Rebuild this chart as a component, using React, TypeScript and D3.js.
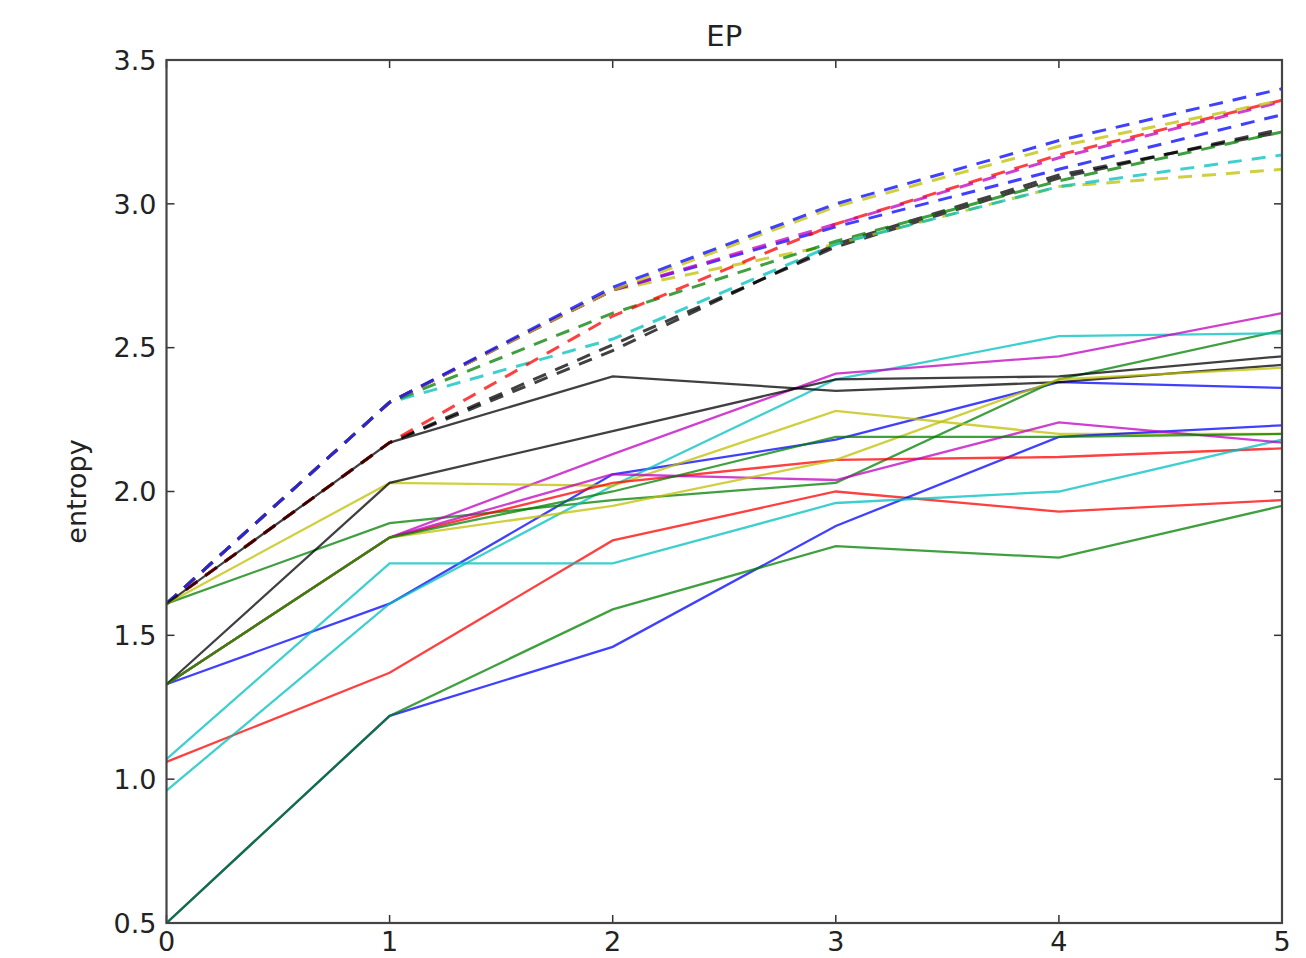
import React from 'react';
import * as d3 from 'd3';

// epochs on the x axis
const steps = [0, 1, 2, 3, 4, 5];

// solid runs
const solidBlue1 = [1.33, 1.61, 2.06, 2.18, 2.38, 2.36];
const solidBlue2 = [0.5, 1.22, 1.46, 1.88, 2.19, 2.23];
const solidGreen1 = [0.5, 1.22, 1.59, 1.81, 1.77, 1.95];
const solidGreen2 = [1.61, 1.89, 1.97, 2.03, 2.39, 2.56];
const solidGreen3 = [1.33, 1.84, 2.0, 2.19, 2.19, 2.2];
const solidRed1 = [1.06, 1.37, 1.83, 2.0, 1.93, 1.97];
const solidRed2 = [1.33, 1.84, 2.03, 2.11, 2.12, 2.15];
const solidCyan1 = [0.96, 1.61, 2.02, 2.39, 2.54, 2.55];
const solidCyan2 = [1.07, 1.75, 1.75, 1.96, 2.0, 2.18];
const solidMagenta1 = [1.33, 1.84, 2.13, 2.41, 2.47, 2.62];
const solidMagenta2 = [1.33, 1.84, 2.06, 2.04, 2.24, 2.17];
const solidYellow1 = [1.61, 2.03, 2.02, 2.28, 2.2, 2.2];
const solidYellow2 = [1.33, 1.84, 1.95, 2.11, 2.39, 2.43];
const solidBlack1 = [1.61, 2.17, 2.4, 2.35, 2.38, 2.44];
const solidBlack2 = [1.33, 2.03, 2.21, 2.39, 2.4, 2.47];

// dashed runs
const dashBlue1 = [1.61, 2.31, 2.71, 3.0, 3.22, 3.4];
const dashYellow1 = [1.61, 2.31, 2.7, 2.99, 3.2, 3.36];
const dashMagenta = [1.61, 2.31, 2.7, 2.93, 3.16, 3.355];
const dashBlue2 = [1.61, 2.31, 2.7, 2.92, 3.12, 3.31];
const dashGreen = [1.61, 2.31, 2.62, 2.87, 3.08, 3.25];
const dashCyan = [1.61, 2.31, 2.53, 2.86, 3.06, 3.17];
const dashYellow2 = [1.61, 2.31, 2.7, 2.86, 3.06, 3.12];
const dashRed = [1.61, 2.17, 2.61, 2.93, 3.17, 3.36];
const dashBlack1 = [1.61, 2.17, 2.51, 2.85, 3.09, 3.26];
const dashBlack2 = [1.61, 2.17, 2.49, 2.86, 3.1, 3.25];

const yTicks = [0.5, 1.0, 1.5, 2.0, 2.5, 3.0, 3.5];

const C = {
  b: '#0000ff',
  g: '#008000',
  r: '#ff0000',
  c: '#00bfbf',
  m: '#bf00bf',
  y: '#bfbf00',
  k: '#000000',
};

const solids: [number[], string][] = [
  [solidBlue1, C.b],
  [solidGreen2, C.g],
  [solidRed1, C.r],
  [solidCyan1, C.c],
  [solidMagenta1, C.m],
  [solidYellow1, C.y],
  [solidBlack1, C.k],
  [solidBlue2, C.b],
  [solidGreen1, C.g],
  [solidRed2, C.r],
  [solidCyan2, C.c],
  [solidMagenta2, C.m],
  [solidYellow2, C.y],
  [solidBlack2, C.k],
  [solidGreen3, C.g],
];

const dashed: [number[], string][] = [
  [dashBlack1, C.k],
  [dashBlack2, C.k],
  [dashYellow2, C.y],
  [dashCyan, C.c],
  [dashGreen, C.g],
  [dashBlue2, C.b],
  [dashRed, C.r],
  [dashMagenta, C.m],
  [dashYellow1, C.y],
  [dashBlue1, C.b],
];

const W = 1306;
const H = 958;
const left = 166.5;
const right = 1282;
const top = 60;
const bottom = 923;

export default function App() {
  const x = d3.scaleLinear().domain([0, 5]).range([left, right]);
  const y = d3.scaleLinear().domain([0.5, 3.5]).range([bottom, top]);
  const line = d3
    .line<number>()
    .x((_, i) => x(steps[i]))
    .y((d) => y(d));

  const font = 'DejaVu Sans, sans-serif';
  const tickLen = 8;

  return (
    <svg
      width={W}
      height={H}
      style={{ position: 'absolute', left: 0, top: 0, background: '#fff' }}
    >
      <defs>
        <clipPath id="plot">
          <rect x={left} y={top} width={right - left} height={bottom - top} />
        </clipPath>
      </defs>
      <g clipPath="url(#plot)">
        {dashed.map(([vals, col], i) => (
          <path
            key={'d' + i}
            d={line(vals) || ''}
            fill="none"
            stroke={col}
            strokeOpacity={0.75}
            strokeWidth={3}
            strokeDasharray="14,10"
          />
        ))}
        {solids.map(([vals, col], i) => (
          <path
            key={'s' + i}
            d={line(vals) || ''}
            fill="none"
            stroke={col}
            strokeOpacity={0.75}
            strokeWidth={2.3}
          />
        ))}
      </g>

      {/* ticks, inward on every side */}
      <g stroke="#333" strokeWidth={1.5}>
        {steps.map((s) => (
          <g key={'xt' + s}>
            <line x1={x(s)} x2={x(s)} y1={bottom} y2={bottom - tickLen} />
            <line x1={x(s)} x2={x(s)} y1={top} y2={top + tickLen} />
          </g>
        ))}
        {yTicks.map((t) => (
          <g key={'yt' + t}>
            <line x1={left} x2={left + tickLen} y1={y(t)} y2={y(t)} />
            <line x1={right} x2={right - tickLen} y1={y(t)} y2={y(t)} />
          </g>
        ))}
      </g>
      <rect
        x={left}
        y={top}
        width={right - left}
        height={bottom - top}
        fill="none"
        stroke="#444"
        strokeWidth={2.2}
      />

      <g fontFamily={font} fontSize={27} fill="#222">
        {yTicks.map((t) => (
          <text key={'yl' + t} x={left - 10} y={y(t)} dy="0.36em" textAnchor="end">
            {t.toFixed(1)}
          </text>
        ))}
        {steps.map((s) => (
          <text key={'xl' + s} x={x(s)} y={bottom + 28} textAnchor="middle">
            {s}
          </text>
        ))}
        <text
          transform={`translate(86,${(top + bottom) / 2}) rotate(-90)`}
          textAnchor="middle"
        >
          entropy
        </text>
        <text x={(left + right) / 2} y={46} textAnchor="middle" fontSize={29}>
          EP
        </text>
      </g>
    </svg>
  );
}
